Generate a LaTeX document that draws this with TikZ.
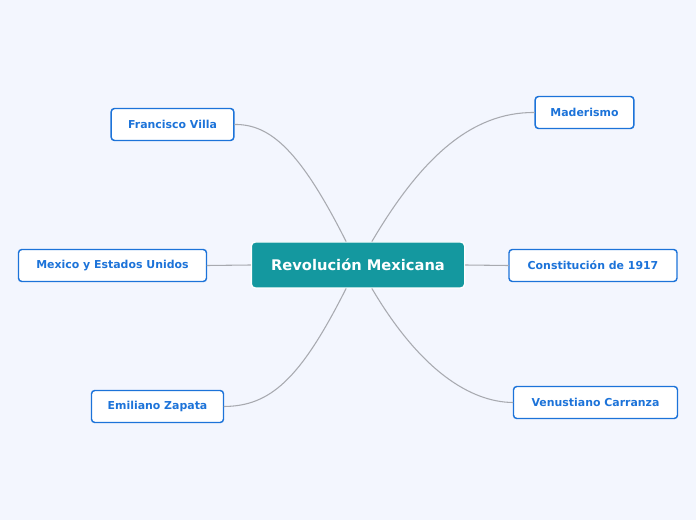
\documentclass[tikz,border=0pt]{standalone}
\usepackage{fontspec}
\setmainfont{DejaVu Sans}
\usepackage{xcolor}
\usepackage{tikz}
\definecolor{bgcol}{HTML}{F3F6FE}
\definecolor{topiccol}{HTML}{1C73D9}
\definecolor{maincol}{HTML}{14989F}
\definecolor{linkcol}{HTML}{A8AAB0}

\begin{document}
\begin{tikzpicture}[x=0.75pt, y=-0.75pt, line cap=round, line join=round,
    topic/.style={draw=topiccol, fill=white, rounded corners=2.5pt, line width=1.1pt,
      text=topiccol, font=\bfseries\fontsize{8.2}{10}\selectfont, minimum height=24pt,
      inner xsep=9pt},
    main/.style={draw=white, fill=maincol, rounded corners=3pt, line width=1pt,
      text=white, font=\bfseries\fontsize{11}{13}\selectfont, minimum height=34.5pt,
      minimum width=160pt},
    link/.style={draw=linkcol, line width=0.8pt}]
    \fill[bgcol] (0,0) rectangle (696,520);
    \useasboundingbox (0,0) rectangle (696,520);

    % Nodes
    \node[main] (C) at (358,265) {Revolución Mexicana};
    \node[topic, minimum width=92pt] (FV) at (172.5,124.5) {Francisco Villa};
    \node[topic, minimum width=74pt] (MD) at (584.5,112.5) {Maderismo};
    \node[topic, minimum width=141pt] (MU) at (112.5,265.5) {Mexico y Estados Unidos};
    \node[topic, minimum width=126pt] (CN) at (593,265.5) {Constitución de 1917};
    \node[topic, minimum width=99pt] (EZ) at (157.5,406.5) {Emiliano Zapata};
    \node[topic, minimum width=123pt] (VC) at (595.5,402.5) {Venustiano Carranza};

    % Connections
    \draw[link] (C.north) ++(-12,0) coordinate (c1) .. controls (300,150) and (270,124) .. (FV.east);
    \draw[link] (C.north) ++(14,0) coordinate (c2) .. controls (420,160) and (470,112) .. (MD.west);
    \draw[link] (C.west) -- (MU.east);
    \draw[link] (C.east) -- (CN.west);
    \draw[link] (C.south) ++(-12,0) coordinate (c3) .. controls (300,380) and (270,406) .. (EZ.east);
    \draw[link] (C.south) ++(14,0) coordinate (c4) .. controls (420,370) and (470,402) .. (VC.west);
\end{tikzpicture}
\end{document}
